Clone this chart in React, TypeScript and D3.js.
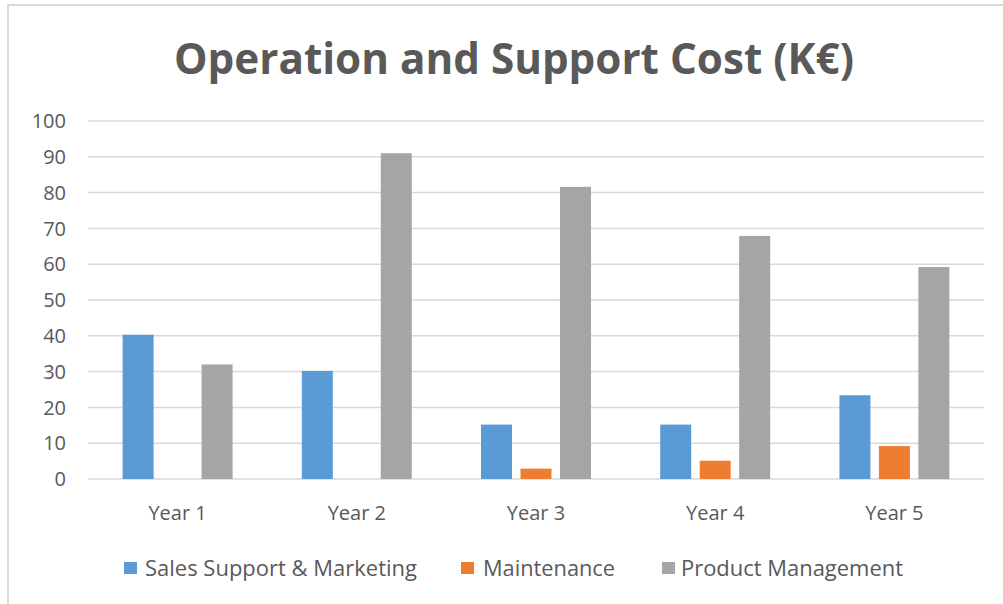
import React from "react";
import * as d3 from "d3";

const years = ["Year 1", "Year 2", "Year 3", "Year 4", "Year 5"];
const seriesNames = ["Sales Support & Marketing", "Maintenance", "Product Management"];
const salesSupport = [40.3, 30.2, 15.2, 15.2, 23.4];
const maintenance = [0, 0, 2.9, 5.1, 9.2];
const productManagement = [32.0, 91.0, 81.6, 67.9, 59.2];
const yTicks = [0, 10, 20, 30, 40, 50, 60, 70, 80, 90, 100];
const colors = ["#5B9BD5", "#ED7D31", "#A5A5A5"];

const W = 1003;
const H = 604;
const FONT = "'Open Sans', 'Noto Sans', sans-serif";
const TEXT = "#595959";

export default function App() {
  const series = [salesSupport, maintenance, productManagement];
  const x = d3.scaleBand<string>().domain(years).range([88, 984]).padding(0);
  const y = d3.scaleLinear().domain([0, 100]).range([479, 121]);
  const groupW = x.bandwidth() * 0.661;
  const inner = d3
    .scaleBand<number>()
    .domain([0, 1, 2])
    .range([-groupW / 2, groupW / 2])
    .paddingInner(0.215)
    .paddingOuter(0.1075);

  const legendItems = [
    { sq: 124, tx: 145, len: 272 },
    { sq: 461, tx: 483, len: 132 },
    { sq: 662, tx: 681, len: 222 },
  ];

  return (
    <svg
      width={W}
      height={H}
      style={{ position: "absolute", left: 0, top: 0, background: "#fff" }}
    >
      <rect x={0} y={0} width={W} height={H} fill="#fff" />
      <line x1={8} y1={4} x2={8} y2={H} stroke="#d9d9d9" strokeWidth={2} />
      <line x1={7} y1={5} x2={W} y2={5} stroke="#d9d9d9" strokeWidth={2} />
      <text
        x={514}
        y={74}
        textAnchor="middle"
        fontFamily={FONT}
        fontWeight={700}
        fontSize={43}
        fill={TEXT}
        textLength={680}
        lengthAdjust="spacingAndGlyphs"
      >
        Operation and Support Cost (K€)
      </text>
      {yTicks.map((t) => (
        <g key={t}>
          <line
            x1={88}
            x2={984}
            y1={y(t)}
            y2={y(t)}
            stroke="#d9d9d9"
            strokeWidth={1.5}
          />
          <text
            x={66}
            y={y(t)}
            dy="0.36em"
            textAnchor="end"
            fontFamily={FONT}
            fontSize={20}
            fill={TEXT}
          >
            {t}
          </text>
        </g>
      ))}
      {years.map((yr, i) => {
        const cx = (x(yr) as number) + x.bandwidth() / 2;
        return (
          <g key={yr}>
            {series.map((s, si) => {
              const v = s[i];
              if (!v) return null;
              const bx = cx + (inner(si) as number);
              return (
                <rect
                  key={si}
                  x={bx}
                  y={y(v)}
                  width={inner.bandwidth()}
                  height={y(0) - y(v)}
                  fill={colors[si]}
                />
              );
            })}
            <text
              x={cx}
              y={520}
              textAnchor="middle"
              fontFamily={FONT}
              fontSize={20}
              fill={TEXT}
            >
              {yr}
            </text>
          </g>
        );
      })}
      {seriesNames.map((n, i) => (
        <g key={n}>
          <rect x={legendItems[i].sq} y={562} width={13} height={12} fill={colors[i]} />
          <text
            x={legendItems[i].tx}
            y={576}
            fontFamily={FONT}
            fontSize={21}
            fill={TEXT}
            textLength={legendItems[i].len}
            lengthAdjust="spacingAndGlyphs"
          >
            {n}
          </text>
        </g>
      ))}
    </svg>
  );
}
